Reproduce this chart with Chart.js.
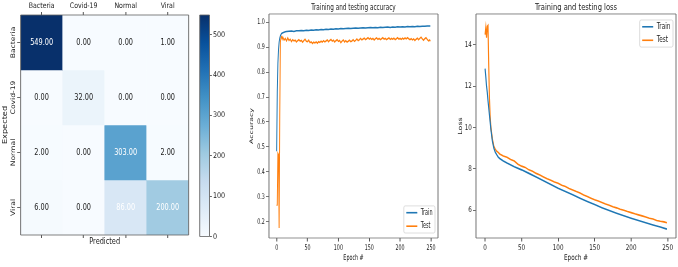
<!DOCTYPE html>
<html>
<head>
<meta charset="utf-8">
<script src="https://cdn.jsdelivr.net/npm/chart.js@4.4.1/dist/chart.umd.min.js"></script>
<style>
  html, body { margin: 0; padding: 0; background: #fff; }
  body { width: 678px; height: 267px; position: relative; overflow: hidden; }
  canvas { position: absolute; top: 0; }
</style>
</head>
<body>
<canvas id="cm" width="240" height="267" style="left:0"></canvas>
<canvas id="cbar" width="60" height="267" style="left:194px"></canvas>
<canvas id="acc" width="361" height="267" style="left:230px"></canvas>
<canvas id="loss" width="317" height="267" style="left:450px"></canvas>
<script>
// confusion matrix (rows = expected, columns = predicted)
const classes = ['Bacteria', 'Covid-19', 'Normal', 'Viral'];
const cmBacteria = [549, 0, 0, 1];
const cmCovid = [0, 32, 0, 0];
const cmNormal = [2, 0, 303, 2];
const cmViral = [6, 0, 86, 200];
const cbarTicks = [0, 100, 200, 300, 400, 500];

// accuracy curves
const accTrainEpoch = [0, 1, 2, 3, 4, 5, 6, 7, 8, 10, 12, 14, 16,
  20, 24, 28, 32, 36, 40, 44, 48, 52, 56, 60, 64, 68, 72, 76, 80, 84, 88, 92, 96,
  100, 104, 108, 112, 116, 120, 124, 128, 132, 136, 140, 144, 148, 152, 156, 160,
  164, 168, 172, 176, 180, 184, 188, 192, 196, 200, 204, 208, 212, 216, 220, 224,
  228, 232, 236, 240, 244, 249];
const accTrain = [0.483, 0.72, 0.835, 0.89, 0.92, 0.936, 0.945, 0.951, 0.955, 0.958, 0.960, 0.962, 0.963,
  0.964, 0.965, 0.963, 0.966, 0.966, 0.967, 0.966, 0.968, 0.967, 0.969, 0.968, 0.970, 0.969, 0.971, 0.970, 0.972, 0.971, 0.973, 0.972, 0.974,
  0.973, 0.975, 0.974, 0.975, 0.976, 0.975, 0.976, 0.977, 0.976, 0.977, 0.978, 0.977, 0.978, 0.979, 0.978, 0.979,
  0.978, 0.980, 0.979, 0.980, 0.981, 0.979, 0.981, 0.980, 0.982, 0.981, 0.982, 0.981, 0.983, 0.982, 0.983, 0.982,
  0.984, 0.983, 0.984, 0.984, 0.985, 0.985];
const accTestEpoch = [0, 1, 2, 3, 4, 5, 6, 7, 8, 9,
  10, 12, 14, 16, 18, 20, 22, 24, 26, 28, 30, 32, 34, 36, 38, 40, 42, 44, 46, 48,
  50, 52, 54, 56, 58, 60, 62, 64, 66, 68, 70, 72, 74, 76, 78, 80, 82, 84, 86, 88,
  90, 92, 94, 96, 98, 100, 102, 104, 106, 108, 110, 112, 114, 116, 118, 120, 122, 124, 126, 128,
  130, 132, 134, 136, 138, 140, 142, 144, 146, 148, 150, 152, 154, 156, 158, 160, 162, 164, 166, 168,
  170, 172, 174, 176, 178, 180, 182, 184, 186, 188, 190, 192, 194, 196, 198, 200, 202, 204, 206, 208,
  210, 212, 214, 216, 218, 220, 222, 224, 226, 228, 230, 232, 234, 236, 238, 240, 242, 244, 246, 248, 249];
const accTest = [0.265, 0.268, 0.475, 0.47, 0.175, 0.62, 0.92, 0.938, 0.942, 0.932,
  0.940, 0.928, 0.935, 0.925, 0.937, 0.927, 0.932, 0.922, 0.930, 0.925, 0.928, 0.921, 0.926, 0.930, 0.924, 0.927, 0.920, 0.926, 0.932, 0.924,
  0.922, 0.928, 0.918, 0.921, 0.915, 0.920, 0.917, 0.921, 0.916, 0.922, 0.919, 0.924, 0.920, 0.926, 0.921, 0.925, 0.929, 0.922, 0.927, 0.931,
  0.924, 0.928, 0.921, 0.926, 0.930, 0.923, 0.927, 0.918, 0.924, 0.929, 0.921, 0.926, 0.920, 0.924, 0.928, 0.922, 0.925, 0.930, 0.923, 0.927,
  0.933, 0.926, 0.930, 0.935, 0.929, 0.933, 0.936, 0.930, 0.934, 0.938, 0.932, 0.936, 0.931, 0.935, 0.929, 0.934, 0.937, 0.931, 0.935, 0.930,
  0.934, 0.938, 0.932, 0.935, 0.930, 0.934, 0.937, 0.931, 0.935, 0.932, 0.936, 0.930, 0.934, 0.938, 0.932, 0.935, 0.931, 0.936, 0.932, 0.937,
  0.933, 0.938, 0.934, 0.930, 0.934, 0.929, 0.933, 0.927, 0.932, 0.936, 0.930, 0.935, 0.940, 0.933, 0.928, 0.934, 0.938, 0.931, 0.925, 0.929, 0.924];

// loss curves
const lossTrainEpoch = [0, 1, 2, 3, 4, 5, 6, 8, 10, 12, 14, 16, 18, 20, 25, 30,
  40, 50, 60, 70, 80, 90, 100, 110, 120, 130, 140, 150, 160, 170, 180, 190, 200, 210, 220, 230, 240, 249];
const lossTrain = [12.85, 12.45, 12.0, 11.7, 11.3, 10.95, 10.6, 9.9, 9.35, 9.0, 8.8, 8.68, 8.57, 8.5, 8.38, 8.28,
  8.1, 7.95, 7.78, 7.6, 7.42, 7.24, 7.06, 6.9, 6.74, 6.58, 6.42, 6.27, 6.12, 5.98, 5.85, 5.73, 5.61, 5.5, 5.39, 5.28, 5.18, 5.08];
const lossTestEpoch = [0, 1, 2, 3, 4, 5, 6, 7, 8, 10, 12, 14, 16, 18, 20,
  25, 30, 35, 40, 45, 50, 55, 60, 65, 70, 75, 80, 85, 90, 95, 100, 105, 110, 115, 120,
  125, 130, 135, 140, 145, 150, 155, 160, 165, 170, 175, 180, 185, 190, 195, 200,
  205, 210, 215, 220, 225, 230, 235, 240, 245, 249];
const lossTest = [14.5, 14.85, 14.35, 14.9, 14.95, 13.0, 11.4, 10.5, 10.0, 9.45, 9.1, 8.95, 8.85, 8.8, 8.72,
  8.62, 8.56, 8.45, 8.38, 8.22, 8.13, 8.07, 7.95, 7.88, 7.78, 7.7, 7.61, 7.52, 7.45, 7.36, 7.3, 7.2, 7.14, 7.05, 6.98,
  6.9, 6.83, 6.73, 6.66, 6.58, 6.5, 6.44, 6.37, 6.3, 6.24, 6.16, 6.11, 6.04, 5.99, 5.93, 5.88,
  5.82, 5.77, 5.72, 5.67, 5.61, 5.57, 5.5, 5.46, 5.43, 5.39];

const epochTicks = [0, 50, 100, 150, 200, 250];
const accTicks = [0.2, 0.3, 0.4, 0.5, 0.6, 0.7, 0.8, 0.9, 1.0];
const lossTicks = [6, 8, 10, 12, 14];

// horizontal squeeze of each panel in the reference
const SQ_CM = 0.82, SQ_ACC = 0.61, SQ_LOSS = 0.72;
const INK = '#222';
const TICK = '#444';

Chart.defaults.font.family = '"DejaVu Sans", sans-serif';
Chart.defaults.color = INK;

// matplotlib "Blues"
const BLUES = [[247,251,255],[222,235,247],[198,219,239],[158,202,225],[107,174,214],
  [66,146,198],[33,113,181],[8,81,156],[8,48,107]];
const rgb = c => `rgb(${c.map(Math.round).join(',')})`;
function blues(t) {
  t = Math.max(0, Math.min(1, t));
  const p = t * 8, i = Math.min(7, Math.floor(p)), f = p - i;
  const a = BLUES[i], b = BLUES[i + 1];
  return rgb(a.map((v, k) => v + (b[k] - v) * f));
}

const pts = (xs, ys) => xs.map((x, i) => ({ x: x, y: ys[i] }));
const fixed = (s, ticks) => { s.ticks = ticks.map(v => ({ value: v })); };

// lay the chart out wide, then redraw it squeezed horizontally into a narrower bitmap
function squeeze(chart, sq) {
  const c = chart.canvas;
  c.width = Math.round(chart.width * sq);
  c.style.width = c.width + 'px';
  chart.ctx.setTransform(sq, 0, 0, 1, 0, 0);
  chart.draw();
}

// axes box like matplotlib spines
const frame = {
  id: 'frame',
  afterDatasetsDraw(chart, args, opts) {
    const { ctx, chartArea: a } = chart;
    const sq = opts.squeeze || 1;
    ctx.save();
    ctx.strokeStyle = opts.color || '#555';
    ctx.lineWidth = 0.9;
    ctx.beginPath();
    ctx.moveTo(a.left, a.top); ctx.lineTo(a.right, a.top);
    ctx.moveTo(a.left, a.bottom); ctx.lineTo(a.right, a.bottom);
    ctx.stroke();
    ctx.lineWidth = 0.9 / sq;
    ctx.beginPath();
    ctx.moveTo(a.left, a.top); ctx.lineTo(a.left, a.bottom);
    ctx.moveTo(a.right, a.top); ctx.lineTo(a.right, a.bottom);
    ctx.stroke();
    ctx.restore();
  }
};

// legend box with line handles, drawn inside the plot
const mplLegend = {
  id: 'mplLegend',
  afterDraw(chart, args, opts) {
    const { ctx, chartArea: a } = chart;
    const sx = 1 / opts.squeeze;
    const items = chart.data.datasets;
    ctx.save();
    ctx.font = '8px "DejaVu Sans"';
    const textW = Math.max(...items.map(d => ctx.measureText(d.label).width));
    const pad = 2.5 * sx, handle = 11 * sx, gap = 3.5 * sx;
    const rowH = 13.5, padY = 6.8;
    const w = pad + handle + gap + textW + pad;
    const h = padY * 2 + rowH * (items.length - 1);
    const x = a.right - 3 * sx - w;
    const y = opts.corner === 'bottom' ? a.bottom - 5 - h : a.top + 6;
    ctx.fillStyle = 'rgba(255,255,255,0.85)';
    ctx.strokeStyle = '#cccccc';
    ctx.lineWidth = 0.8;
    ctx.beginPath();
    ctx.roundRect(x, y, w, h, 2);
    ctx.fill();
    ctx.stroke();
    ctx.textAlign = 'left';
    ctx.textBaseline = 'middle';
    items.forEach((d, i) => {
      const cy = y + padY + i * rowH;
      ctx.strokeStyle = d.borderColor;
      ctx.lineWidth = 1.6;
      ctx.beginPath();
      ctx.moveTo(x + pad, cy); ctx.lineTo(x + pad + handle, cy);
      ctx.stroke();
      ctx.fillStyle = INK;
      ctx.fillText(d.label, x + pad + handle + gap, cy);
    });
    ctx.restore();
  }
};

// ---------- confusion matrix ----------
const cmRows = [cmBacteria, cmCovid, cmNormal, cmViral];
const cmAll = cmRows.flat();
const cmMax = Math.max(...cmAll);
const cmThresh = cmAll.reduce((s, v) => s + v, 0) / cmAll.length;
const rowTicks = classes.map((c, i) => i + 0.5);

const cmText = {
  id: 'cmText',
  afterDatasetsDraw(chart) {
    const { ctx, chartArea: a, scales: { x, y } } = chart;
    ctx.save();
    ctx.textAlign = 'center';
    ctx.textBaseline = 'middle';
    ctx.font = '8px "DejaVu Sans"';
    cmRows.forEach((row, r) => row.forEach((v, c) => {
      ctx.fillStyle = v > cmThresh ? '#ffffff' : INK;
      ctx.fillText(v.toFixed(2), x.getPixelForValue(c), y.getPixelForValue(r + 0.5));
    }));
    // rotated row labels
    ctx.font = '7.6px "DejaVu Sans"';
    ctx.fillStyle = INK;
    classes.forEach((name, r) => {
      ctx.save();
      ctx.translate(a.left - 9.5, y.getPixelForValue(r + 0.5));
      ctx.rotate(-Math.PI / 2);
      ctx.fillText(name, 0, 0);
      ctx.restore();
    });
    ctx.restore();
  }
};

const cmChart = new Chart(document.getElementById('cm'), {
  type: 'bar',
  data: {
    labels: classes,
    datasets: cmRows.map((row, r) => ({
      label: classes[r],
      data: row.map(() => [r, r + 1]),
      backgroundColor: row.map(v => blues(v / cmMax)),
      borderWidth: 0,
      barPercentage: 1,
      categoryPercentage: 1,
      grouped: false
    }))
  },
  options: {
    responsive: false,
    animation: false,
    events: [],
    layout: { padding: { left: 0, right: 9.9, top: 0, bottom: 0 } },
    plugins: {
      legend: { display: false },
      tooltip: { enabled: false },
      frame: { squeeze: SQ_CM, color: '#666' }
    },
    scales: {
      x: {
        position: 'top',
        offset: true,
        grid: { offset: false, drawOnChartArea: false, tickLength: 3, color: TICK, lineWidth: 0.9 / SQ_CM },
        border: { display: false },
        ticks: { font: { size: 7.6 }, padding: 1.5, maxRotation: 0 },
        afterFit: s => { s.height = 15; }
      },
      x2: {
        type: 'category',
        labels: classes,
        position: 'bottom',
        offset: true,
        grid: { offset: false, drawOnChartArea: false, tickLength: 3, color: TICK, lineWidth: 0.9 / SQ_CM },
        border: { display: false },
        ticks: { display: false },
        title: { display: true, text: 'Predicted', font: { size: 8 }, padding: { top: 0, bottom: 20 } },
        afterFit: s => { s.height = 32; }
      },
      y: {
        type: 'linear',
        min: 0,
        max: 4,
        reverse: true,
        afterBuildTicks: s => fixed(s, rowTicks),
        grid: { drawOnChartArea: false, tickLength: 3.5 / SQ_CM, color: TICK, lineWidth: 0.9 },
        border: { display: false },
        ticks: { display: false },
        title: { display: true, text: 'Expected', font: { size: 8.2 }, padding: { top: 1.8, bottom: 0 } },
        afterFit: s => { s.width = 25.2; }
      }
    }
  },
  plugins: [cmText, frame]
});
squeeze(cmChart, SQ_CM);

// colour bar
function cbarFill(ctx) {
  const chart = ctx.chart, a = chart.chartArea;
  if (!a) return rgb(BLUES[4]);
  const g = chart.ctx.createLinearGradient(0, a.bottom, 0, a.top);
  BLUES.forEach((c, i) => g.addColorStop(i / 8, rgb(c)));
  return g;
}

const cbarChart = new Chart(document.getElementById('cbar'), {
  type: 'bar',
  data: {
    labels: [''],
    datasets: [{ data: [cmMax], backgroundColor: cbarFill, borderWidth: 0, barPercentage: 1, categoryPercentage: 1 }]
  },
  options: {
    responsive: false,
    animation: false,
    events: [],
    layout: { padding: { left: 7, right: 0, top: 15, bottom: 30.5 } },
    plugins: {
      legend: { display: false },
      tooltip: { enabled: false },
      frame: { squeeze: SQ_CM, color: '#666' }
    },
    scales: {
      x: { display: false },
      y: {
        position: 'right',
        min: 0,
        max: cmMax,
        afterBuildTicks: s => fixed(s, cbarTicks),
        grid: { drawOnChartArea: false, tickLength: 2.4 / SQ_CM, color: TICK, lineWidth: 0.9 },
        border: { display: false },
        ticks: { font: { size: 7.8 }, padding: 1.2 },
        afterFit: s => { s.width = 41.1; }
      }
    }
  },
  plugins: [frame]
});
squeeze(cbarChart, SQ_CM);

// ---------- line charts ----------
function lineChart(id, cfg) {
  const sq = cfg.squeeze;
  const chart = new Chart(document.getElementById(id), {
    type: 'line',
    data: {
      datasets: [
        { label: 'Train', data: cfg.train, borderColor: '#1f77b4', backgroundColor: '#1f77b4' },
        { label: 'Test', data: cfg.test, borderColor: '#ff7f0e', backgroundColor: '#ff7f0e' }
      ]
    },
    options: {
      responsive: false,
      animation: false,
      events: [],
      layout: { padding: { left: 0, right: cfg.padRight, top: 0, bottom: 0 } },
      elements: { point: { radius: 0 }, line: { borderWidth: 1.6, tension: 0 } },
      plugins: {
        legend: { display: false },
        tooltip: { enabled: false },
        title: {
          display: true, text: cfg.title, fullSize: false,
          font: { size: 9.4, weight: 'normal' }, color: INK,
          padding: { top: 2.3, bottom: 0.4 }
        },
        frame: { squeeze: sq, color: '#666' },
        mplLegend: { corner: cfg.legend, squeeze: sq }
      },
      scales: {
        x: {
          type: 'linear',
          min: -12.45,
          max: 261.45,
          afterBuildTicks: s => fixed(s, epochTicks),
          grid: { drawOnChartArea: false, tickLength: 3.5, color: TICK, lineWidth: 0.9 / sq },
          border: { display: false },
          ticks: { font: { size: 7.8 }, padding: 1.6, maxRotation: 0 },
          title: { display: true, text: 'Epoch #', font: { size: 7.9 }, padding: { top: 0, bottom: 4.8 } },
          afterFit: s => { s.height = 29; }
        },
        y: {
          type: 'linear',
          min: cfg.yMin,
          max: cfg.yMax,
          afterBuildTicks: s => fixed(s, cfg.yTicks),
          grid: { drawOnChartArea: false, tickLength: 3 / sq, color: TICK, lineWidth: 0.9 },
          border: { display: false },
          ticks: { font: { size: 7.8 }, padding: 1.2 / sq, callback: cfg.yFormat },
          title: { display: true, text: cfg.yTitle, font: { size: 7.9 }, padding: { top: cfg.yTitlePad, bottom: 0 } },
          afterFit: s => { s.width = cfg.plotLeft; }
        }
      }
    },
    plugins: [frame, mplLegend]
  });
  squeeze(chart, sq);
  return chart;
}

lineChart('acc', {
  squeeze: SQ_ACC,
  title: 'Training and testing accuracy',
  train: pts(accTrainEpoch, accTrain),
  test: pts(accTestEpoch, accTest),
  yMin: 0.135, yMax: 1.033, yTicks: accTicks,
  yFormat: v => v.toFixed(1),
  yTitle: 'Accuracy', yTitlePad: 31.5,
  plotLeft: 63.9, padRight: 20,
  legend: 'bottom'
});

lineChart('loss', {
  squeeze: SQ_LOSS,
  title: 'Training and testing loss',
  train: pts(lossTrainEpoch, lossTrain),
  test: pts(lossTestEpoch, lossTest),
  yMin: 4.65, yMax: 15.5, yTicks: lossTicks,
  yFormat: v => String(v),
  yTitle: 'Loss', yTitlePad: 10,
  plotLeft: 36.1, padRight: 3.1,
  legend: 'top'
});
</script>
</body>
</html>
